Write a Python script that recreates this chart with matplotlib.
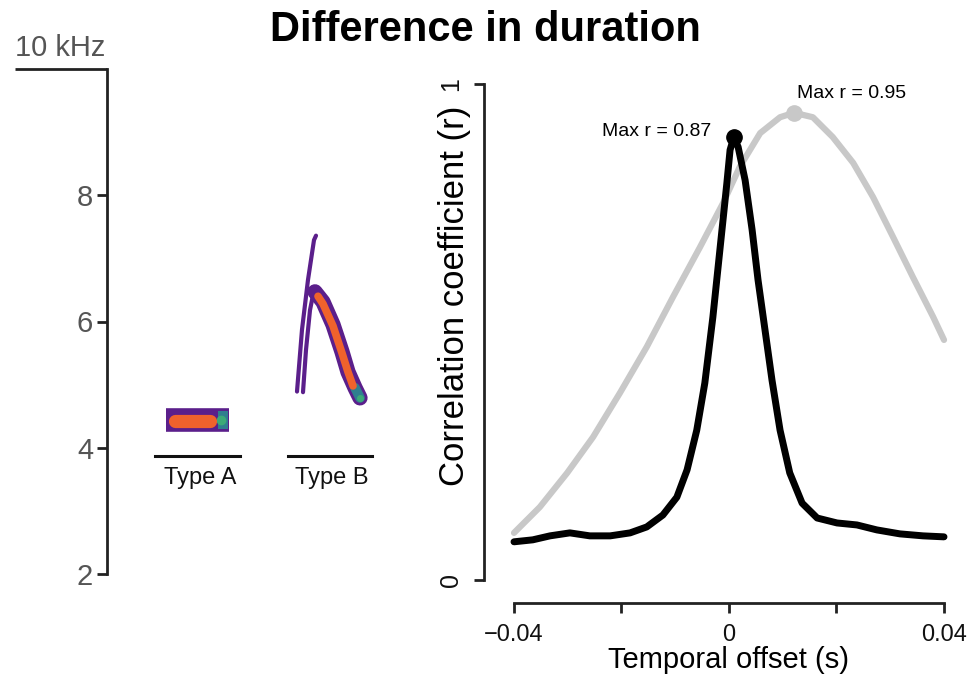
import matplotlib
matplotlib.use("Agg")
import matplotlib.pyplot as plt

plt.rcParams['font.family'] = ['Liberation Sans', 'DejaVu Sans']

# --- spectrogram ridges (left panel: x in px from axis, y in kHz) ---
typeA_ridge_x = [59, 122]
typeA_ridge_y = [4.44, 4.44]
typeA_core_x = [68, 103]
typeA_core_y = [4.42, 4.42]
typeA_teal_x = [111, 121]
typeA_teal_y = [4.44, 4.44]

typeB_up1_x = [190, 195, 201, 207, 209]
typeB_up1_y = [4.89, 5.87, 6.66, 7.29, 7.36]
typeB_up2_x = [196, 199, 203, 207]
typeB_up2_y = [4.88, 5.55, 6.18, 6.50]
typeB_down_x = [208, 216, 226, 235, 241, 248, 253]
typeB_down_y = [6.47, 6.31, 5.95, 5.52, 5.20, 4.95, 4.79]
typeB_core_x = [211, 216, 226, 235, 241, 246]
typeB_core_y = [6.40, 6.28, 5.93, 5.50, 5.20, 4.98]

underline_A = [48, 133]
underline_B = [181, 265]
type_labels = ['Type A', 'Type B']
type_label_x = [93, 225]
freq_ticks = [2, 4, 6, 8]

# --- cross-correlation curves (right panel) ---
black_offset = [-0.04, -0.0365, -0.0333, -0.0296, -0.0259, -0.0221, -0.0184,
                -0.0153, -0.0123, -0.0097, -0.0078, -0.0060, -0.0045, -0.0030,
                -0.0017, -0.0004, 0.0002, 0.0009, 0.0017, 0.0030, 0.0043,
                0.0054, 0.0067, 0.0080, 0.0095, 0.0113, 0.0136, 0.0164,
                0.0201, 0.0238, 0.0275, 0.0318, 0.0361, 0.04]
black_r = [0.077, 0.081, 0.089, 0.095, 0.089, 0.089, 0.095,
           0.107, 0.131, 0.167, 0.222, 0.302, 0.397, 0.530,
           0.665, 0.800, 0.867, 0.893, 0.873, 0.806, 0.706,
           0.605, 0.504, 0.403, 0.302, 0.216, 0.155, 0.125,
           0.115, 0.111, 0.101, 0.093, 0.089, 0.087]
gray_offset = [-0.04, -0.0352, -0.0301, -0.0253, -0.0203, -0.0153, -0.0104,
               -0.0054, -0.0011, 0.0020, 0.0058, 0.0095, 0.0121, 0.0156,
               0.0193, 0.0231, 0.0268, 0.0305, 0.0342, 0.0380, 0.04]
gray_r = [0.095, 0.147, 0.216, 0.288, 0.377, 0.470, 0.571,
          0.671, 0.760, 0.833, 0.901, 0.933, 0.942, 0.933,
          0.893, 0.841, 0.772, 0.692, 0.611, 0.530, 0.484]
black_max = (0.0009, 0.893)
gray_max = (0.0121, 0.942)

fig = plt.figure(figsize=(9.78, 6.84), dpi=100)

# ---------------- left panel ----------------
axl = fig.add_axes([107 / 978, 1 - 574 / 684, 293 / 978, 505 / 684])
axl.set_xlim(0, 293)
axl.set_ylim(2, 10)
for s in ['top', 'right', 'bottom']:
    axl.spines[s].set_visible(False)
axl.spines['left'].set_linewidth(2)
axl.spines['left'].set_color('#222222')
axl.set_xticks([])
axl.set_yticks(freq_ticks)
axl.tick_params(axis='y', length=7, width=2, color='#222222', labelsize=21,
                labelcolor='#555555', pad=3)

purple = '#5b1f8b'
teal = '#2f7f8f'
green = '#3caa78'
orange = '#f0622c'

# Type A
axl.plot(typeA_ridge_x, typeA_ridge_y, color=purple, lw=17, solid_capstyle='butt')
axl.plot(typeA_teal_x, typeA_teal_y, color=teal, lw=13, solid_capstyle='butt')
axl.plot([typeA_teal_x[0] + 3], [typeA_teal_y[0]], 'o', color=green, ms=6)
axl.plot(typeA_core_x, typeA_core_y, color=orange, lw=9.5, solid_capstyle='round')

# Type B
axl.plot(typeB_up1_x, typeB_up1_y, color=purple, lw=3, solid_capstyle='round')
axl.plot(typeB_up2_x, typeB_up2_y, color=purple, lw=3, solid_capstyle='round')
axl.plot(typeB_down_x, typeB_down_y, color=purple, lw=11, solid_capstyle='round',
         solid_joinstyle='round')
axl.plot(typeB_down_x[-2:], typeB_down_y[-2:], color=teal, lw=7, solid_capstyle='round')
axl.plot([typeB_down_x[-1]], [typeB_down_y[-1]], 'o', color=green, ms=4)
axl.plot(typeB_core_x, typeB_core_y, color=orange, lw=5.5, solid_capstyle='round',
         solid_joinstyle='round')

# underlines and labels
axl.plot(underline_A, [3.87, 3.87], color='#111111', lw=2.2, clip_on=False)
axl.plot(underline_B, [3.87, 3.87], color='#111111', lw=2.2, clip_on=False)
for lx, lab in zip(type_label_x, type_labels):
    axl.text(lx, 3.52, lab, ha='center', va='center', fontsize=17, color='#111111')

# 10 kHz scale line
ytr = axl.get_yaxis_transform()
axl.plot([-92 / 293, 0], [10, 10], transform=ytr, color='#222222', lw=2,
         clip_on=False, solid_capstyle='butt')
axl.text(-92 / 293, 10.33, '10 kHz', transform=ytr, ha='left', va='center',
         fontsize=21, color='#555555')

# ---------------- right panel ----------------
axr = fig.add_axes([514 / 978, 1 - 580 / 684, 430 / 978, 496 / 684])
axr.set_xlim(-0.04, 0.04)
axr.set_ylim(0, 1)
for s in ['top', 'right']:
    axr.spines[s].set_visible(False)
axr.spines['left'].set_position(('outward', 30 * 0.72))
axr.spines['bottom'].set_position(('outward', 23 * 0.72))
for s in ['left', 'bottom']:
    axr.spines[s].set_linewidth(2)
    axr.spines[s].set_color('#222222')
axr.set_xticks([-0.04, -0.02, 0, 0.02, 0.04])
axr.set_xticklabels(['\u22120.04', '', '0', '', '0.04'])
axr.set_yticks([0, 1])
axr.set_yticklabels(['0', '1'], rotation=90, va='center')
axr.tick_params(axis='both', length=7, width=2, color='#222222',
                labelcolor='#111111')
axr.tick_params(axis='x', labelsize=17, pad=8)
axr.tick_params(axis='y', labelsize=18, pad=8)

axr.plot(gray_offset, gray_r, color='#c8c8c8', lw=4.5, clip_on=False,
         solid_capstyle='round', solid_joinstyle='round')
axr.plot(black_offset, black_r, color='black', lw=5, clip_on=False,
         solid_capstyle='round', solid_joinstyle='round')
axr.plot([gray_max[0]], [gray_max[1]], 'o', color='#c8c8c8', ms=11, clip_on=False)
axr.plot([black_max[0]], [black_max[1]], 'o', color='black', ms=11, clip_on=False)
axr.annotate('Max r = 0.87', black_max, xytext=(-16, 4), textcoords='offset points',
             ha='right', va='center', fontsize=14)
axr.annotate('Max r = 0.95', gray_max, xytext=(2, 14), textcoords='offset points',
             ha='left', va='center', fontsize=14)

axr.set_xlabel('Temporal offset (s)', fontsize=21, va='center')
axr.xaxis.set_label_coords(0.5, -(660 - 580) / 496)
axr.set_ylabel('Correlation coefficient (r)', fontsize=25, va='center')
axr.yaxis.set_label_coords(-(514 - 455) / 430, (580 - 296) / 496)

fig.text(485 / 978, 1 - 30 / 684, 'Difference in duration', ha='center', va='center',
         fontsize=30, fontweight='bold')

fig.savefig('out.png', dpi=100)
